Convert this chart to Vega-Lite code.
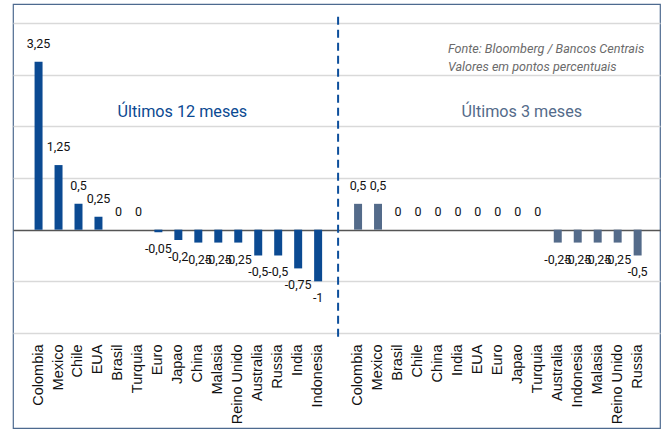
{
  "$schema": "https://vega.github.io/schema/vega-lite/v6.json",
  "width": 647,
  "height": 424,
  "autosize": {"type": "none"},
  "padding": {"left": 13, "top": 4, "right": 2, "bottom": 1},
  "background": "white",
  "config": {
    "locale": {"number": {"decimal": ",", "thousands": ".", "grouping": [3], "currency": ["", ""], "minus": "-"}},
    "view": {"stroke": "#4d6a8f", "strokeWidth": 1.2},
    "font": "Roboto, sans-serif"
  },
  "datasets": {
    "bars": [
      {"key": "Colombia|12m", "period": "12 meses", "value": 3.25},
      {"key": "Mexico|12m", "period": "12 meses", "value": 1.25},
      {"key": "Chile|12m", "period": "12 meses", "value": 0.5},
      {"key": "EUA|12m", "period": "12 meses", "value": 0.25},
      {"key": "Brasil|12m", "period": "12 meses", "value": 0},
      {"key": "Turquia|12m", "period": "12 meses", "value": 0},
      {"key": "Euro|12m", "period": "12 meses", "value": -0.05},
      {"key": "Japao|12m", "period": "12 meses", "value": -0.2},
      {"key": "China|12m", "period": "12 meses", "value": -0.25},
      {"key": "Malasia|12m", "period": "12 meses", "value": -0.25},
      {"key": "Reino Unido|12m", "period": "12 meses", "value": -0.25},
      {"key": "Australia|12m", "period": "12 meses", "value": -0.5},
      {"key": "Russia|12m", "period": "12 meses", "value": -0.5},
      {"key": "India|12m", "period": "12 meses", "value": -0.75},
      {"key": "Indonesia|12m", "period": "12 meses", "value": -1},
      {"key": "Colombia|3m", "period": "3 meses", "value": 0.5},
      {"key": "Mexico|3m", "period": "3 meses", "value": 0.5},
      {"key": "Brasil|3m", "period": "3 meses", "value": 0},
      {"key": "Chile|3m", "period": "3 meses", "value": 0},
      {"key": "China|3m", "period": "3 meses", "value": 0},
      {"key": "India|3m", "period": "3 meses", "value": 0},
      {"key": "EUA|3m", "period": "3 meses", "value": 0},
      {"key": "Euro|3m", "period": "3 meses", "value": 0},
      {"key": "Japao|3m", "period": "3 meses", "value": 0},
      {"key": "Turquia|3m", "period": "3 meses", "value": 0},
      {"key": "Australia|3m", "period": "3 meses", "value": -0.25},
      {"key": "Indonesia|3m", "period": "3 meses", "value": -0.25},
      {"key": "Malasia|3m", "period": "3 meses", "value": -0.25},
      {"key": "Reino Unido|3m", "period": "3 meses", "value": -0.25},
      {"key": "Russia|3m", "period": "3 meses", "value": -0.5}
    ],
    "notes": [
      {"text": "Últimos 12 meses", "group": "12 meses", "anchor": "Japao|12m", "y": 2.19},
      {"text": "Últimos 3 meses", "group": "3 meses", "anchor": "Japao|3m", "y": 2.19}
    ]
  },
  "data": {"name": "bars"},
  "layer": [
    {
      "mark": {"type": "bar"},
      "encoding": {
        "x": {
          "field": "key",
          "type": "nominal",
          "sort": null,
          "scale": {
            "type": "band",
            "domain": ["Colombia|12m", "Mexico|12m", "Chile|12m", "EUA|12m", "Brasil|12m", "Turquia|12m", "Euro|12m", "Japao|12m", "China|12m", "Malasia|12m", "Reino Unido|12m", "Australia|12m", "Russia|12m", "India|12m", "Indonesia|12m", "|gap", "Colombia|3m", "Mexico|3m", "Brasil|3m", "Chile|3m", "China|3m", "India|3m", "EUA|3m", "Euro|3m", "Japao|3m", "Turquia|3m", "Australia|3m", "Indonesia|3m", "Malasia|3m", "Reino Unido|3m", "Russia|3m"],
            "paddingInner": 0.6,
            "paddingOuter": 1.03,
            "align": 0.54
          },
          "axis": {
            "orient": "bottom",
            "offset": -95,
            "title": null,
            "domain": false,
            "ticks": false,
            "grid": false,
            "labelAngle": -90,
            "labelAlign": "right",
            "labelBaseline": "middle",
            "labelPadding": 11,
            "labelFont": "Liberation Sans, Arial, sans-serif",
            "labelFontSize": 14.5,
            "labelColor": "#111111",
            "labelOverlap": false,
            "labelExpr": "split(datum.value, '|')[0]"
          }
        },
        "y": {
          "field": "value",
          "type": "quantitative",
          "scale": {"domain": [-3.839, 4.3677], "nice": false, "zero": false},
          "axis": {
            "title": null,
            "labels": false,
            "ticks": false,
            "domain": false,
            "grid": true,
            "values": [-2, -1, 0, 1, 2, 3, 4],
            "gridColor": {"condition": {"test": "datum.value === 0", "value": "#555555"}, "value": "#d9d9d9"},
            "gridWidth": {"condition": {"test": "datum.value === 0", "value": 1.5}, "value": 1.3}
          }
        },
        "color": {
          "field": "period",
          "type": "nominal",
          "scale": {"domain": ["12 meses", "3 meses"], "range": ["#0b4a92", "#546b8a"]},
          "legend": null
        }
      }
    },
    {
      "transform": [{"filter": "datum.value >= 0"}],
      "mark": {"type": "text", "baseline": "middle", "align": "center", "dy": -18, "fontSize": 12.5, "color": "#111111"},
      "encoding": {
        "x": {"field": "key", "type": "nominal"},
        "y": {"field": "value", "type": "quantitative"},
        "text": {"field": "value", "type": "quantitative", "format": "~g"}
      }
    },
    {
      "transform": [{"filter": "datum.value < 0"}],
      "mark": {"type": "text", "baseline": "middle", "align": "center", "dy": 17, "fontSize": 12.5, "color": "#111111"},
      "encoding": {
        "x": {"field": "key", "type": "nominal"},
        "y": {"field": "value", "type": "quantitative"},
        "text": {"field": "value", "type": "quantitative", "format": "~g"}
      }
    },
    {
      "data": {"values": [{"from": 4.12, "to": -2.09}]},
      "mark": {"type": "rule", "color": "#0d4f9c", "strokeWidth": 2, "strokeDash": [8, 5]},
      "encoding": {
        "x": {"datum": "|gap", "type": "nominal"},
        "y": {"field": "from", "type": "quantitative"},
        "y2": {"field": "to"}
      }
    },
    {
      "data": {"name": "notes"},
      "mark": {"type": "text", "align": "center", "baseline": "alphabetic", "fontSize": 16.2},
      "encoding": {
        "x": {"field": "anchor", "type": "nominal", "bandPosition": 1},
        "y": {"field": "y", "type": "quantitative"},
        "text": {"field": "text"},
        "color": {"field": "group", "type": "nominal", "scale": {"domain": ["12 meses", "3 meses"], "range": ["#1b4f8f", "#5a7090"]}, "legend": null}
      }
    },
    {
      "data": {"values": [{"text": "Fonte: Bloomberg / Bancos Centrais", "anchor": "India|3m", "y": 3.42}, {"text": "Valores em pontos percentuais", "anchor": "India|3m", "y": 3.07}]},
      "mark": {"type": "text", "align": "left", "baseline": "alphabetic", "dx": -10, "fontSize": 12.6, "fontStyle": "italic", "color": "#6b6b6b"},
      "encoding": {
        "x": {"field": "anchor", "type": "nominal"},
        "y": {"field": "y", "type": "quantitative"},
        "text": {"field": "text"}
      }
    }
  ]
}
